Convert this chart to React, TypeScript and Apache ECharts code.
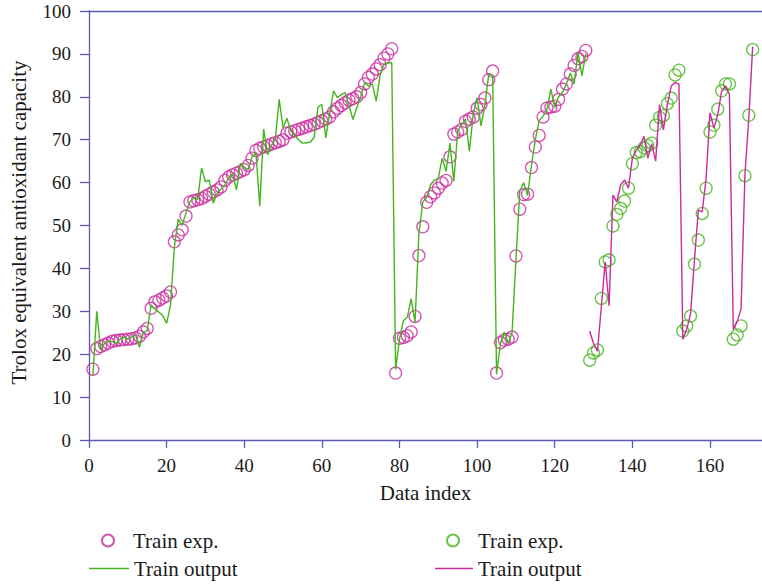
import React, { useEffect, useRef } from "react";
import * as echarts from "echarts";

// Experimental values, indices 1..128 (magenta circles)
const expA: number[] = [
  16.5, 21.3, 21.8, 22.2, 22.6, 23.0, 23.2, 23.3, 23.4, 23.5, 23.6, 23.8, 24.2, 25.2, 26.0, 30.7, 32.2, 32.6, 33.1, 33.6, 34.5, 46.2, 47.8, 49.0, 52.2,
  55.5, 55.8, 56.0, 56.3, 56.8, 57.3, 57.8, 58.3, 59.0, 60.5, 61.3, 61.8, 62.2, 62.6, 63.0, 64.0, 65.7, 67.5, 68.0, 68.3, 68.6, 69.0, 69.3, 69.6, 70.0,
  71.5, 71.8, 72.1, 72.4, 72.7, 73.0, 73.3, 73.6, 74.0, 74.4, 74.8, 75.3, 76.5, 77.3, 78.0, 78.6, 79.2, 79.6, 80.0, 81.0, 83.0, 84.5, 85.3, 86.5, 87.5, 89.0, 90.0, 91.2,
  15.6, 23.7, 23.9, 24.3, 25.2, 28.8, 43.0, 49.7, 55.4, 56.7, 57.6, 58.7, 59.9, 60.5, 66.0, 71.3, 71.8, 72.4, 74.3, 74.8, 75.3, 77.3, 78.2, 79.7, 84.0, 86.0,
  15.6, 22.7, 23.3, 23.5, 24.0, 42.9, 53.8, 57.2, 57.3, 63.5, 68.3, 71.0, 75.3, 77.4, 77.6, 77.8, 79.4, 81.8, 83.0, 85.3, 87.3, 88.9, 89.4, 90.8,
];

// Model output, indices 1..128 (green line)
const outA: number[] = [
  15.0, 30.0, 21.0, 22.5, 23.0, 23.0, 22.5, 23.5, 24.0, 23.5, 24.0, 24.5, 21.6, 25.0, 25.5, 31.5, 30.5, 29.8, 29.0, 27.2, 31.5, 45.0, 51.5, 50.0, 53.0,
  55.5, 56.5, 56.0, 63.4, 60.2, 60.6, 55.2, 57.5, 58.5, 59.5, 61.0, 62.0, 58.3, 64.5, 63.5, 63.0, 66.0, 67.0, 54.5, 72.5, 66.5, 68.7, 70.0, 79.4, 72.7,
  75.0, 72.0, 71.0, 70.0, 69.2, 69.3, 69.4, 70.5, 77.6, 78.2, 70.4, 76.0, 81.4, 79.8, 80.5, 81.0, 78.0, 74.7, 77.5, 80.0, 83.3, 82.5, 83.0, 79.0, 85.0, 87.6, 87.8, 88.0,
  16.4, 23.5, 27.8, 28.6, 32.9, 27.4, 48.0, 55.5, 56.5, 59.5, 60.6, 61.0, 65.7, 62.6, 69.2, 60.3, 72.0, 73.5, 74.8, 67.3, 76.0, 79.8, 73.2, 78.0, 85.3, 85.0,
  15.3, 22.5, 25.2, 22.5, 25.0, 42.0, 58.0, 60.0, 57.0, 64.0, 70.0, 74.5, 75.5, 77.0, 81.8, 77.5, 80.0, 81.0, 83.0, 85.5, 83.0, 90.4, 84.9, 90.0,
];

// Experimental values, indices 129..171 (green circles)
const expB: number[] = [
  18.6, 20.3, 21.0, 33.0, 41.5, 42.0, 49.9, 52.6, 54.0, 55.7, 58.7, 64.4, 67.0, 67.2, 68.1, 68.6, 69.2, 73.4, 75.2, 75.6, 78.4, 79.7, 85.1, 86.2,
  25.4, 26.6, 28.9, 41.0, 46.6, 52.8, 58.7, 71.8, 73.4, 77.1, 81.4, 83.0, 83.0,
  23.5, 24.5, 26.6, 61.6, 75.7, 91.0,
];

// Model output, indices 129..171 (magenta line)
const outB: number[] = [
  25.4, 22.5, 20.7, 31.0, 41.5, 31.3, 57.1, 55.5, 59.5, 60.6, 58.7, 65.7, 67.5, 68.7, 70.8, 65.7, 69.0, 65.0, 78.2, 72.3, 78.0, 82.5, 83.3, 83.0,
  23.5, 25.8, 29.4, 42.0, 53.6, 53.2, 61.0, 76.3, 72.7, 75.8, 81.3, 82.5, 80.6,
  25.8, 27.6, 30.5, 61.8, 75.0, 91.7,
];

const startA = 1;
const startB = 129;

const seriesNames: string[] = ["Train exp.", "Train output", "Train exp. ", "Train output "];

const MAGENTA = "#cc2a9e";
const GREEN = "#45b51d";
const AXIS = "#5a5ab4";
const FONT = "Liberation Serif";
const TEXT = "#1a1a1a";

const toPairs = (arr: number[], start: number) => arr.map((v, i) => [start + i, v]);

export default function App() {
  const ref = useRef<HTMLDivElement>(null);

  useEffect(() => {
    if (!ref.current) return;
    const chart = echarts.init(ref.current, undefined, { renderer: "svg" });

    const legendItem = (name: string, left: number, top: number, isLine: boolean, w: number) => ({
      orient: "horizontal" as const,
      left,
      top,
      itemWidth: w,
      itemHeight: isLine ? 1.6 : 12,
      icon: isLine ? "rect" : "circle",
      textStyle: { fontFamily: FONT, fontSize: 21, color: TEXT },
      formatter: (n: string) => n.trim(),
      selectedMode: false,
      data: [name],
    });

    chart.setOption({
      animation: false,
      backgroundColor: "#ffffff",
      grid: { left: 88, top: 11, width: 674, height: 429, containLabel: false },
      legend: [
        legendItem(seriesNames[0], 96, 525, false, 40),
        legendItem(seriesNames[1], 84, 553, true, 40),
        legendItem(seriesNames[2], 441, 525, false, 40),
        legendItem(seriesNames[3], 430, 553, true, 38),
      ],
      xAxis: [
        {
          type: "value",
          min: 0,
          max: 173.4,
          interval: 20,
          name: "Data index",
          nameLocation: "middle",
          nameGap: 42,
          nameTextStyle: { fontFamily: FONT, fontSize: 21, color: TEXT },
          axisLine: { show: true, onZero: false, lineStyle: { color: AXIS, width: 1.3 } },
          axisTick: { show: true, length: 8, lineStyle: { color: AXIS, width: 1.3 } },
          axisLabel: { fontFamily: FONT, fontSize: 19, color: TEXT, margin: 16, showMaxLabel: false },
          splitLine: { show: false },
        },
        {
          type: "value",
          position: "top",
          min: 0,
          max: 173.4,
          interval: 20,
          axisLine: { show: true, onZero: false, lineStyle: { color: AXIS, width: 1.3 } },
          axisTick: { show: false },
          axisLabel: { show: false },
          splitLine: { show: false },
        },
      ],
      yAxis: {
        type: "value",
        min: 0,
        max: 100,
        interval: 10,
        name: "Trolox equivalent antioxidant capacity",
        nameLocation: "middle",
        nameGap: 60,
        nameRotate: 90,
        nameTextStyle: { fontFamily: FONT, fontSize: 21, color: TEXT, padding: [0, 0, 0, 6] },
        axisLine: { show: true, onZero: false, lineStyle: { color: AXIS, width: 1.3 } },
        axisTick: { show: true, length: 9, lineStyle: { color: AXIS, width: 1.3 } },
        axisLabel: { fontFamily: FONT, fontSize: 19, color: TEXT, margin: 18 },
        splitLine: { show: false },
      },
      series: [
        {
          name: seriesNames[0],
          type: "scatter",
          data: toPairs(expA, startA),
          symbol: "circle",
          symbolSize: 12,
          itemStyle: { color: "rgba(0,0,0,0)", borderColor: MAGENTA, borderWidth: 1.3 },
          z: 2,
        },
        {
          name: seriesNames[1],
          type: "line",
          data: toPairs(outA, startA),
          symbol: "none",
          showSymbol: false,
          lineStyle: { color: GREEN, width: 1.4 },
          itemStyle: { color: GREEN },
          z: 3,
        },
        {
          name: seriesNames[2],
          type: "scatter",
          data: toPairs(expB, startB),
          symbol: "circle",
          symbolSize: 12,
          itemStyle: { color: "rgba(0,0,0,0)", borderColor: GREEN, borderWidth: 1.3 },
          z: 2,
        },
        {
          name: seriesNames[3],
          type: "line",
          data: toPairs(outB, startB),
          symbol: "none",
          showSymbol: false,
          lineStyle: { color: MAGENTA, width: 1.4 },
          itemStyle: { color: MAGENTA },
          z: 3,
        },
      ],
    });

    return () => chart.dispose();
  }, []);

  return (
    <div
      ref={ref}
      style={{ position: "fixed", left: 0, top: 0, width: 762, height: 584 }}
    />
  );
}
